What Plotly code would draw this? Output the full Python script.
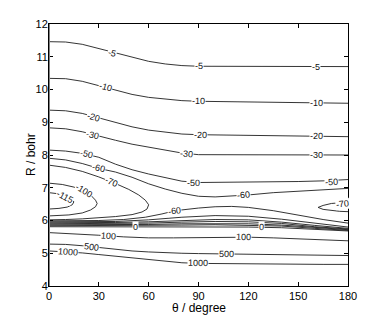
import math

import numpy as np
import plotly.graph_objects as go

# contour lines: theta in degree, R in bohr
theta_long = [0, 10, 20, 30, 40, 50, 60, 70, 80, 90, 120, 150, 180]
r_m5 = [11.46, 11.45, 11.38, 11.25, 11.10, 10.97, 10.86, 10.78, 10.73, 10.71, 10.70, 10.70, 10.70]
r_m10 = [10.34, 10.33, 10.25, 10.12, 9.98, 9.85, 9.76, 9.70, 9.66, 9.64, 9.62, 9.60, 9.58]
r_m20 = [9.37, 9.35, 9.27, 9.13, 8.98, 8.86, 8.76, 8.69, 8.64, 8.62, 8.60, 8.58, 8.56]
r_m30 = [8.83, 8.80, 8.71, 8.57, 8.45, 8.33, 8.24, 8.14, 8.06, 8.01, 8.00, 8.00, 8.00]

theta_m50_up = [0, 10, 20, 30, 40, 50, 60, 70, 80, 90, 120, 150, 165, 180]
r_m50_up = [8.15, 8.12, 8.05, 7.93, 7.72, 7.55, 7.42, 7.30, 7.20, 7.16, 7.17, 7.19, 7.21, 7.25]

theta_m60_up = [0, 10, 20, 30, 40, 50, 60, 70, 80, 90, 100, 110, 120, 135, 150, 165, 180]
r_m60_up = [7.90, 7.85, 7.74, 7.59, 7.48, 7.32, 7.12, 6.96, 6.83, 6.74, 6.72, 6.74, 6.78, 6.85, 6.90, 6.94, 6.98]

theta_m70_left = [0, 10, 20, 30, 40, 48, 54, 58, 60, 59, 56, 50, 40, 30, 20, 10, 0]
r_m70_left = [7.69, 7.62, 7.50, 7.33, 7.13, 6.95, 6.78, 6.62, 6.48, 6.35, 6.26, 6.18, 6.12, 6.08, 6.05, 6.03, 6.02]

theta_m100 = [0, 8, 15, 21, 25, 28, 29, 28, 25, 20, 12, 0]
r_m100 = [7.14, 7.10, 7.02, 6.90, 6.78, 6.62, 6.52, 6.42, 6.32, 6.23, 6.17, 6.14]

theta_m115 = [0, 5, 10, 13, 15, 14, 11, 6, 0]
r_m115 = [6.85, 6.82, 6.74, 6.66, 6.57, 6.48, 6.41, 6.37, 6.35]

theta_m70_right = [180, 175, 170, 165, 162, 165, 170, 175, 180]
r_m70_right = [6.56, 6.55, 6.52, 6.46, 6.40, 6.34, 6.30, 6.28, 6.27]

theta_m60_low = [0, 15, 30, 45, 58, 68, 76, 90, 100, 110, 120, 135, 150, 165, 180]
r_m60_low = [5.99, 5.99, 6.00, 6.03, 6.10, 6.20, 6.30, 6.38, 6.42, 6.43, 6.40, 6.30, 6.16, 6.03, 5.92]

theta_band = [0, 20, 40, 60, 80, 100, 120, 140, 160, 180]
r_m50_low = [5.96, 5.96, 5.97, 6.02, 6.10, 6.15, 6.13, 6.04, 5.92, 5.80]
r_m30_low = [5.93, 5.93, 5.94, 5.96, 6.00, 6.03, 6.02, 5.95, 5.85, 5.76]
r_m20_low = [5.90, 5.90, 5.91, 5.92, 5.95, 5.97, 5.96, 5.91, 5.81, 5.74]
r_m10_low = [5.87, 5.87, 5.87, 5.88, 5.90, 5.91, 5.90, 5.86, 5.78, 5.72]
r_m5_low = [5.84, 5.84, 5.84, 5.85, 5.86, 5.87, 5.86, 5.83, 5.76, 5.70]
r_0 = [5.81, 5.81, 5.80, 5.80, 5.80, 5.80, 5.80, 5.78, 5.73, 5.68]

theta_100 = [0, 15, 30, 45, 60, 75, 90, 105, 120, 135, 150, 165, 180]
r_100 = [5.63, 5.60, 5.55, 5.50, 5.47, 5.47, 5.48, 5.49, 5.49, 5.47, 5.44, 5.41, 5.38]

theta_wall = [0, 10, 20, 30, 40, 50, 60, 70, 80, 90, 105, 120, 135, 150, 165, 180]
r_500 = [5.28, 5.27, 5.23, 5.17, 5.11, 5.07, 5.04, 5.01, 5.00, 4.99, 4.98, 4.97, 4.96, 4.95, 4.94, 4.93]
r_1000 = [5.07, 5.05, 5.01, 4.96, 4.91, 4.85, 4.80, 4.75, 4.71, 4.69, 4.68, 4.67, 4.67, 4.66, 4.66, 4.66]

contours = {
    "-5": (theta_long, r_m5),
    "-10": (theta_long, r_m10),
    "-20": (theta_long, r_m20),
    "-30": (theta_long, r_m30),
    "-50": (theta_m50_up, r_m50_up),
    "-60": (theta_m60_up, r_m60_up),
    "-70": (theta_m70_left, r_m70_left),
    "-100": (theta_m100, r_m100),
    "-115": (theta_m115, r_m115),
    "-70b": (theta_m70_right, r_m70_right),
    "-60b": (theta_m60_low, r_m60_low),
    "-50b": (theta_band, r_m50_low),
    "-30b": (theta_band, r_m30_low),
    "-20b": (theta_band, r_m20_low),
    "-10b": (theta_band, r_m10_low),
    "-5b": (theta_band, r_m5_low),
    "0": (theta_band, r_0),
    "100": (theta_100, r_100),
    "500": (theta_wall, r_500),
    "1000": (theta_wall, r_1000),
}

# clabel positions
label_keys = ["-5", "-5", "-5", "-10", "-10", "-10", "-20", "-20", "-20",
              "-30", "-30", "-30", "-50", "-50", "-50", "-60", "-60", "-60b",
              "-70", "-70b", "-100", "-115", "0", "0", "100", "100",
              "500", "500", "1000", "1000"]
label_theta = [38, 90, 161, 34, 90, 161, 26.5, 91, 161,
               26, 83, 161, 22.7, 86.7, 170, 29.7, 117, 75.3,
               37.7, 176.5, 21.3, 9.6, 51.8, 128.2, 35.7, 116.8,
               25.7, 107, 11.6, 89.7]
label_r = [11.11, 10.71, 10.70, 10.07, 9.64, 9.60, 9.16, 8.62, 8.58,
           8.61, 8.03, 8.00, 8.03, 7.16, 7.19, 7.59, 6.78, 6.30,
           7.18, 6.50, 6.91, 6.71, 5.79, 5.79, 5.53, 5.49,
           5.20, 4.98, 5.04, 4.69]

# the page puts the figure 8px in from the corner, so the figure is 8px smaller
W, H = 377, 314
ml, mr, mt, mb = 41, 37, 16, 36
kx = (W - ml - mr) / 180.0
ky = (H - mt - mb) / 8.0
font = "Liberation Sans, Arial"

fig = go.Figure()
for key, (th, rr) in contours.items():
    fig.add_trace(go.Scatter(x=th, y=rr, mode="lines", showlegend=False, hoverinfo="skip",
                             line=dict(color="#1e1e1e", width=0.9)))

for key, t, r in zip(label_keys, label_theta, label_r):
    th, rr = np.array(contours[key][0], float), np.array(contours[key][1], float)
    i = int(np.argmin((th - t) ** 2 * kx ** 2 + (rr - r) ** 2 * ky ** 2))
    j = min(i + 1, len(th) - 1)
    if j == i:
        i = i - 1
    dx = (th[j] - th[i]) * kx
    dy = (rr[j] - rr[i]) * ky
    ang = math.degrees(math.atan2(-dy, dx))
    if ang > 90:
        ang -= 180
    if ang < -90:
        ang += 180
    fig.add_annotation(x=t, y=r, text=key.rstrip("b"), showarrow=False, textangle=ang,
                       font=dict(family=font, size=9, color="#111"),
                       bgcolor="white", borderpad=0)

# axis titles
fig.add_annotation(xref="paper", yref="paper", x=0.5, y=0, yshift=-22, text="θ / degree",
                   xanchor="center", yanchor="middle",
                   showarrow=False, font=dict(family=font, size=12, color="black"))
fig.add_annotation(xref="paper", yref="paper", x=0, y=0.5, xshift=-18, text="R / bohr",
                   xanchor="center", yanchor="middle", textangle=-90,
                   showarrow=False, font=dict(family=font, size=12, color="black"))

# grey left spine as in the original
fig.add_shape(type="line", xref="x", yref="y", x0=0, x1=0, y0=4, y1=12,
              line=dict(color="#808080", width=2))

axis_style = dict(showline=True, linecolor="black", linewidth=1, mirror="ticks",
                  ticks="inside", ticklen=4, tickcolor="black", showgrid=False,
                  zeroline=False, automargin=False,
                  tickfont=dict(family=font, size=11, color="black"))

fig.update_layout(
    width=W, height=H,
    margin=dict(l=ml, r=mr, t=mt, b=mb),
    paper_bgcolor="white", plot_bgcolor="white",
    xaxis=dict(range=[0, 180], tickvals=[0, 30, 60, 90, 120, 150, 180], **axis_style),
    yaxis=dict(range=[4, 12], dtick=1, ticklabelstandoff=-2, **axis_style),
)

fig.write_html("out.html")
